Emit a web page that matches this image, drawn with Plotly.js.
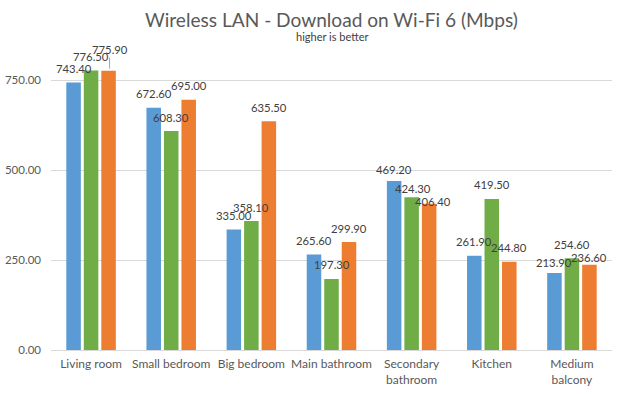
<!DOCTYPE html>
<html><head><meta charset="utf-8">
<script src="https://cdn.plot.ly/plotly-3.0.1.min.js"></script>
<style>html,body{margin:0;padding:0;background:#fff}#c{width:628px;height:394px}</style>
</head><body><div id="c"></div>
<script>
var categories = ["Living room","Small bedroom","Big bedroom","Main bathroom","Secondary<br>bathroom","Kitchen","Medium<br>balcony"];
var seriesA = [743.40,672.60,335.00,265.60,469.20,261.90,213.90];
var seriesB = [776.50,608.30,358.10,197.30,424.30,419.50,254.60];
var seriesC = [775.90,695.00,635.50,299.90,406.40,244.80,236.60];
var tickValues = [0,250,500,750];
var colors = ["#5B9BD5","#70AD47","#ED7D31"];

// label placement tweaks (style only): [series, category] -> [dx, dy px]
var labelNudge = {"2,0":[1,7], "0,4":[0,-2], "1,4":[1,-5], "2,4":[4,-12], "0,6":[0,-3], "2,6":[0,-7]};

var series = [seriesA, seriesB, seriesC];
var data = series.map(function(vals, s){
  return {type:'bar', x:categories, y:vals, marker:{color:colors[s]}, hoverinfo:'none'};
});

var slotPx = 17.5;
var labelAnns = [];
series.forEach(function(vals, s){
  vals.forEach(function(v, i){
    var n = labelNudge[s+','+i] || [0,0];
    var a = {xref:'x', yref:'y', x:categories[i], y:v, text:v.toFixed(2),
      font:{family:'Lato', size:11.3, color:'#404040'}, showarrow:false,
      xanchor:'center', yanchor:'middle', xshift:(s-1)*slotPx + n[0], yshift:14 + n[1]};
    if (n[1] >= 5) {
      a.showarrow = true; a.arrowhead = 0; a.arrowwidth = 1; a.arrowcolor = '#A6A6A6';
      a.ax = 0; a.ay = -(12 + n[1]); a.yshift = 2; a.standoff = 0; a.startstandoff = 0;
    }
    labelAnns.push(a);
  });
});

var layout = {
  width:628, height:394, margin:{l:51,r:16,t:62,b:44},
  paper_bgcolor:'#fff', plot_bgcolor:'#fff', showlegend:false,
  bargap:0.345, bargroupgap:0.17,
  font:{family:'Lato', color:'#595959', size:11},
  annotations:[
    {text:'Wireless LAN - Download on Wi-Fi 6 (Mbps)', xref:'paper', yref:'paper', x:0.5, y:1.149, yanchor:'middle', showarrow:false, font:{size:19.1,color:'#595959',family:'Lato'}},
    {text:'higher is better', xref:'paper', yref:'paper', x:0.5, y:1.09, yanchor:'middle', showarrow:false, font:{size:11,color:'#404040',family:'Lato'}}
  ].concat(labelAnns),
  xaxis:{type:'category', showline:true, linecolor:'#D9D9D9', linewidth:1, ticks:'', tickangle:0, ticklabelstandoff:3, tickfont:{size:12, color:'#595959'}, automargin:false},
  yaxis:{range:[0,800], tickvals:tickValues, tickformat:'.2f', showgrid:true, gridcolor:'#D9D9D9', zeroline:false, showline:false, ticks:'', ticklabelstandoff:9, tickfont:{size:11.5,color:'#595959'}, automargin:false}
};
Plotly.newPlot('c', data, layout, {staticPlot:true, displayModeBar:false});
</script></body></html>
